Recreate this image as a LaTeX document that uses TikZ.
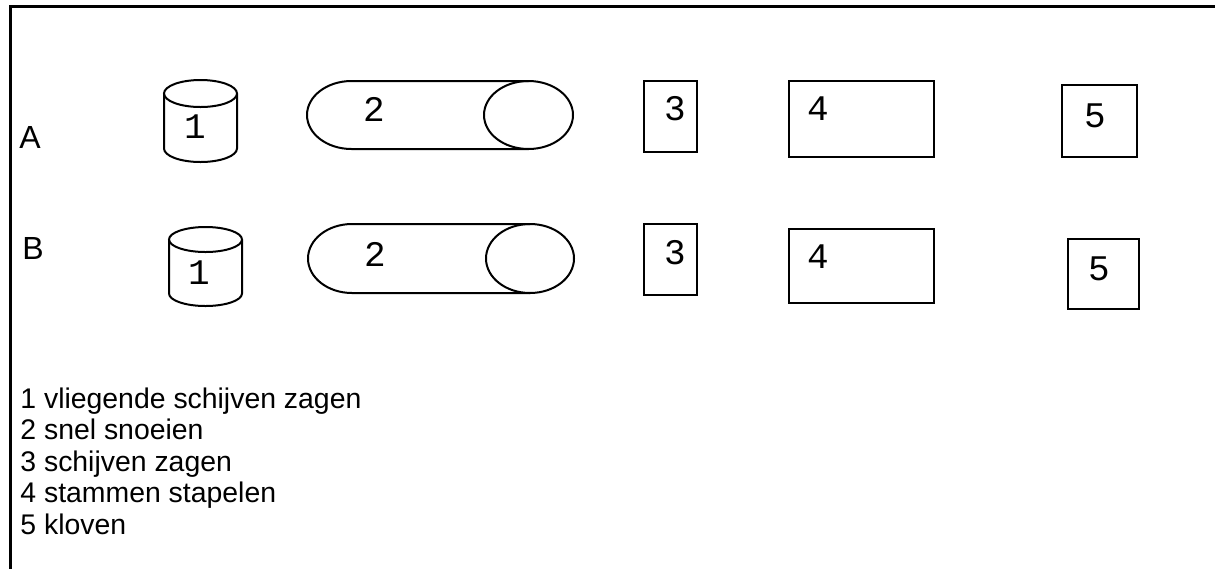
\documentclass[tikz,border=0pt]{standalone}
\usepackage{fontspec}
\setmainfont{Liberation Sans}
\setmonofont{Liberation Mono}
\tikzset{
    num/.style={inner sep=0pt, font=\ttfamily\fontsize{18}{21}\selectfont},
    rowlab/.style={inner sep=0pt, anchor=base west, font=\fontsize{16}{19}\selectfont},
    legend/.style={inner sep=0pt, anchor=base west, font=\fontsize{14.2}{17}\selectfont},
    shape line/.style={line width=1pt}
}
% standing cylinder: centre x, top y, bottom y, x radius, y radius
\newcommand{\vat}[5]{
    \draw[shape line](#1-#4, #2)--(#1-#4, #3)arc[start angle=180, end angle=0, x radius=#4, y radius=#5]--(#1+#4, #2);
    \draw[shape line](#1, #2)ellipse[x radius=#4, y radius=#5]
}
% lying cylinder: left x, right x, centre y, x radius, y radius
\newcommand{\roll}[5]{
    \draw[shape line](#2, #3-#5)--(#1, #3-#5)arc[start angle=270, end angle=90, x radius=#4, y radius=#5]--(#2, #3+#5);
    \draw[shape line](#2, #3)ellipse[x radius=#4, y radius=#5]
}

\begin{document}
\begin{tikzpicture}[x=.5pt, y=-.5pt]
    \useasboundingbox(0, 0)rectangle(1215, 569);
    \draw[line width=1.5pt](1215, 6)--(10, 6)--(10, 569);
    % row A
    \node[rowlab] (labA) at (19, 148) {A};
    \vat{200.5}{93.5}{148.5}{36.5}{13.5};
    \node[num] (oneA) at (195, 127) {1};
    \roll{351.5}{528.5}{115}{44.5}{34};
    \node[num] (twoA) at (374, 109) {2};
    \draw[shape line](644, 81)rectangle(697, 152);
    \node[num] (threeA) at (675, 109) {3};
    \draw[shape line](789, 81)rectangle(934, 157);
    \node[num] (fourA) at (818, 109) {4};
    \draw[shape line](1062, 85)rectangle(1137, 157);
    \node[num] (fiveA) at (1095, 116) {5};
    % row B
    \node[rowlab] (labB) at (22, 259) {B};
    \vat{205.5}{239.5}{293.5}{36.5}{12.5};
    \node[num] (oneB) at (199, 273) {1};
    \roll{352}{530}{258.5}{44}{34.5};
    \node[num] (twoB) at (375, 254) {2};
    \draw[shape line](644, 224)rectangle(697, 295);
    \node[num] (threeB) at (675, 253) {3};
    \draw[shape line](789, 229)rectangle(934, 303);
    \node[num] (fourB) at (818, 257) {4};
    \draw[shape line](1068, 239)rectangle(1139, 309);
    \node[num] (fiveB) at (1099, 269) {5};
    % legend
    \node[legend] (leg1) at (20, 408) {1 vliegende schijven zagen};
    \node[legend] (leg2) at (20, 439.5) {2 snel snoeien};
    \node[legend] (leg3) at (20, 471) {3 schijven zagen};
    \node[legend] (leg4) at (20, 502.5) {4 stammen stapelen};
    \node[legend] (leg5) at (20, 534) {5 kloven};
\end{tikzpicture}
\end{document}
